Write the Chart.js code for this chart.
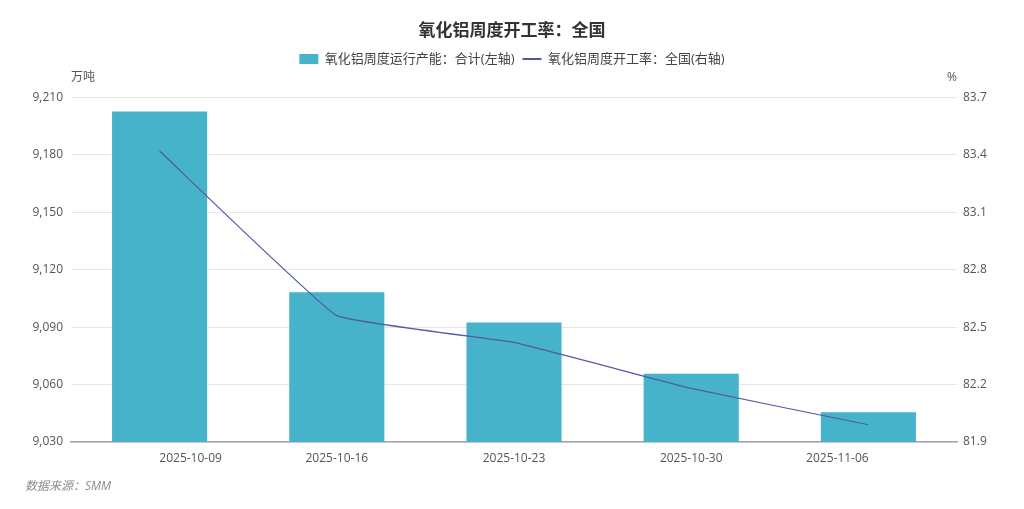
<!DOCTYPE html>
<html>
<head>
<meta charset="utf-8">
<script src="https://cdn.jsdelivr.net/npm/chart.js@4.4.1/dist/chart.umd.min.js"></script>
<style>
html,body{margin:0;padding:0;background:#fff;}
#wrap{position:relative;width:1024px;height:509px;}
</style>
</head>
<body>
<div id="wrap"><canvas id="c"></canvas></div>
<script>
const titleText = '氧化铝周度开工率：全国';
const categories = ['2025-10-09', '2025-10-16', '2025-10-23', '2025-10-30', '2025-11-06'];
const capacityName = '氧化铝周度运行产能：合计(左轴)';
const capacityValues = [9202.7, 9108.2, 9092.4, 9065.7, 9045.5];
const rateName = '氧化铝周度开工率：全国(右轴)';
const rateValues = [83.42, 82.56, 82.42, 82.18, 81.99];
const leftUnit = '万吨';
const rightUnit = '%';
const sourceText = '数据来源：SMM';
const leftTicks = [9030, 9060, 9090, 9120, 9150, 9180, 9210];
const rightTicks = [81.9, 82.2, 82.5, 82.8, 83.1, 83.4, 83.7];

const FONT = '"Open Sans", "Noto Sans CJK SC", sans-serif';
const BAR = '#46B3CA';
const LINE = '#4F5AA0';

const legendGap = {
  id: 'legendGap',
  beforeInit(chart) {
    const orig = chart.legend.fit;
    chart.legend.fit = function () {
      orig.call(this);
      this.height += 22;
    };
  }
};

const extras = {
  id: 'extras',
  afterDraw(chart) {
    const ctx = chart.ctx;
    const x = chart.scales.x;
    const area = chart.chartArea;
    ctx.save();
    ctx.font = '12px ' + FONT;
    ctx.fillStyle = '#555';
    ctx.textAlign = 'center';
    ctx.textBaseline = 'middle';
    const n = categories.length;
    categories.forEach((c, i) => {
      let px = x.getPixelForValue(i);
      if (i === 0) px += 31;
      if (i === n - 1) px -= 31;
      ctx.fillText(c, px, area.bottom + 17);
    });
    ctx.textAlign = 'left';
    ctx.fillText(leftUnit, area.left, area.top - 20);
    ctx.textAlign = 'center';
    ctx.fillText(rightUnit, area.right - 5, area.top - 20);
    ctx.font = 'italic 12px ' + FONT;
    ctx.fillStyle = '#8c8c8c';
    ctx.textAlign = 'left';
    ctx.fillText(sourceText, 25, 487);
    ctx.restore();
  }
};

new Chart(document.getElementById('c'), {
  data: {
    labels: categories,
    datasets: [
      {
        type: 'line',
        label: rateName,
        data: rateValues,
        yAxisID: 'y1',
        borderColor: LINE,
        backgroundColor: LINE,
        borderWidth: 1.2,
        pointRadius: 0,
        pointHoverRadius: 0,
        tension: 0.08,
        order: 0
      },
      {
        type: 'bar',
        label: capacityName,
        data: capacityValues,
        yAxisID: 'y',
        backgroundColor: BAR,
        borderWidth: 0,
        barPercentage: 95 / 177,
        categoryPercentage: 1,
        order: 1
      }
    ]
  },
  options: {
    responsive: true,
    maintainAspectRatio: false,
    animation: false,
    layout: { padding: { left: 0, right: 0, top: 0, bottom: 0 } },
    plugins: {
      title: {
        display: true,
        text: titleText,
        color: '#333',
        font: { family: FONT, size: 17, weight: 'bold' },
        padding: { top: 21, bottom: 3 }
      },
      legend: {
        display: true,
        position: 'top',
        reverse: true,
        labels: {
          color: '#444',
          font: { family: FONT, size: 13 },
          usePointStyle: true,
          pointStyleWidth: 19,
          boxHeight: 10,
          padding: 8,
          generateLabels(chart) {
            const items = Chart.defaults.plugins.legend.labels.generateLabels(chart);
            items.forEach(it => {
              const ds = chart.data.datasets[it.datasetIndex];
              if (ds.type === 'line') {
                it.pointStyle = 'line';
                it.lineWidth = 2;
                it.strokeStyle = LINE;
              } else {
                it.pointStyle = 'rect';
                it.lineWidth = 0;
                it.fillStyle = BAR;
                it.strokeStyle = BAR;
              }
            });
            return items;
          }
        }
      },
      tooltip: { enabled: false }
    },
    scales: {
      x: {
        type: 'category',
        offset: true,
        grid: { display: false, drawTicks: false },
        border: { display: true, color: '#A3A6AC', width: 1.5 },
        ticks: { display: false },
        afterFit(s) { s.height = 67; }
      },
      y: {
        position: 'left',
        min: 9030,
        max: 9210,
        afterBuildTicks(s) { s.ticks = leftTicks.map(v => ({ value: v })); },
        grid: { color: '#E6E6E6', lineWidth: 1, drawTicks: false },
        border: { display: false },
        ticks: {
          color: '#555',
          font: { family: FONT, size: 12 },
          padding: 8,
          callback: v => v.toLocaleString('en-US')
        },
        afterFit(s) { s.width = 71; }
      },
      y1: {
        position: 'right',
        min: 81.9,
        max: 83.7,
        afterBuildTicks(s) { s.ticks = rightTicks.map(v => ({ value: v })); },
        grid: { display: false, drawTicks: false },
        border: { display: false },
        ticks: {
          color: '#555',
          font: { family: FONT, size: 12 },
          padding: 6,
          callback: v => Number(v).toFixed(1)
        },
        afterFit(s) { s.width = 67; }
      }
    }
  },
  plugins: [legendGap, extras]
});
</script>
</body>
</html>
